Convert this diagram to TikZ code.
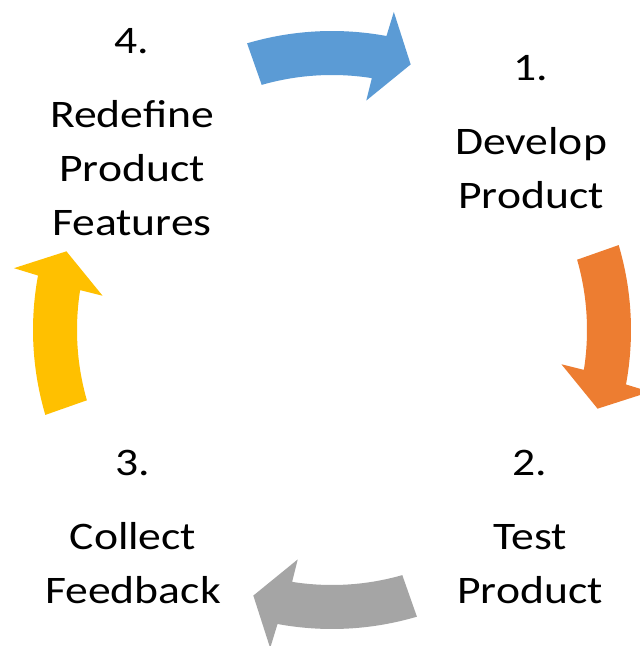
\documentclass[tikz,border=0pt]{standalone}
\usepackage{fontspec}
\setmainfont[FakeStretch=1.17]{Carlito}
\definecolor{oblue}{HTML}{5B9BD5}
\definecolor{oorange}{HTML}{ED7D31}
\definecolor{ogray}{HTML}{A5A5A5}
\definecolor{ogold}{HTML}{FFC000}
\newcommand\cyclearrow[2]{%
  \begin{scope}[shift={(332,316)},rotate=#1]
    \fill[#2] (106:255) arc[start angle=106,end angle=81,radius=255]
      -- (81.5:232) -- (73.5:277) -- (79:324) -- (79.5:299)
      arc[start angle=79.5,end angle=106.5,radius=299] -- cycle;
  \end{scope}}
\begin{document}
\begin{tikzpicture}[x=1pt,y=1pt,
  steplabel/.style={align=center,inner sep=0pt,anchor=north,
    font=\fontsize{39}{54}\selectfont,text=black}]
\fill[white] (0,0) rectangle (640,646);
\useasboundingbox (0,0) rectangle (640,646);
\cyclearrow{0}{oblue}
\cyclearrow{-90}{oorange}
\cyclearrow{-180}{ogray}
\cyclearrow{90}{ogold}
\node[steplabel] (s4) at (132,618) {4.\\[20pt]Redefine\\Product\\Features};
\node[steplabel] (s1) at (531,591) {1.\\[20pt]Develop\\Product};
\node[steplabel] (s3) at (133,196) {3.\\[20pt]Collect\\Feedback};
\node[steplabel] (s2) at (530,196) {2.\\[20pt]Test\\Product};
\end{tikzpicture}
\end{document}
